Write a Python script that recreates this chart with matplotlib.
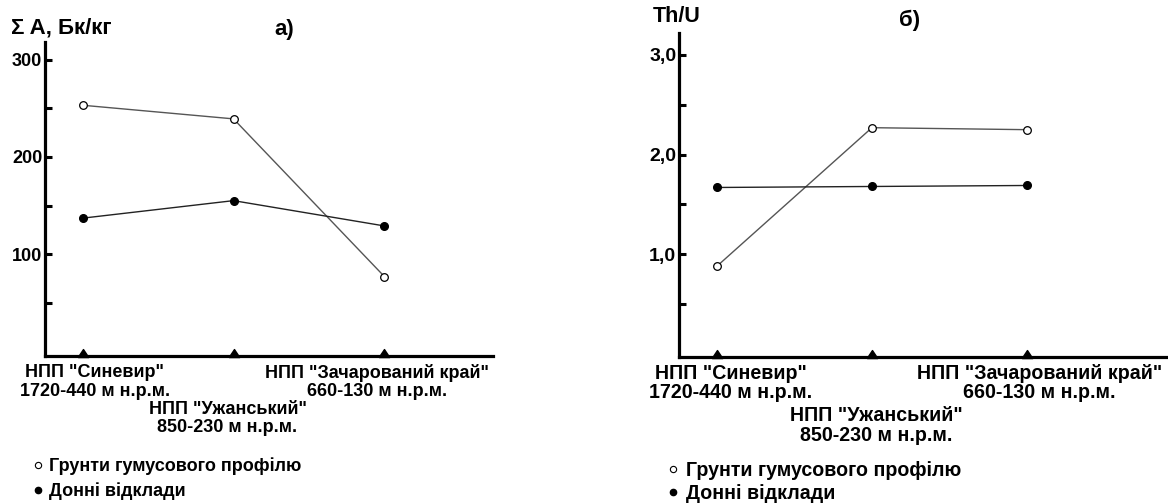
import numpy as np
import matplotlib
matplotlib.use('Agg')
import matplotlib.pyplot as plt
from matplotlib.lines import Line2D
from matplotlib.ticker import FixedLocator, FuncFormatter

plt.rcParams['font.family'] = ['Liberation Sans', 'DejaVu Sans']
plt.rcParams['font.weight'] = 'bold'

# Назви парків і висотні діапазони
parks = ['НПП "Синевир"', 'НПП "Ужанський"', 'НПП "Зачарований край"']
heights = ['1720-440 м н.р.м.', '850-230 м н.р.м.', '660-130 м н.р.м.']
legend_labels = ['Грунти гумусового профілю', 'Донні відклади']

# а) сумарна активність, Бк/кг
activity_soil = [253, 239, 77]
activity_sediment = [137, 155, 129]

# б) відношення Th/U
thu_soil = [0.88, 2.27, 2.25]
thu_sediment = [1.67, 1.68, 1.69]

x = np.arange(len(parks))

fig = plt.figure(figsize=(11.68, 5.04), dpi=100)
ax1 = fig.add_axes([0.0385, 0.2937, 0.3836, 0.623])
ax2 = fig.add_axes([0.5813, 0.2911, 0.4187, 0.6434])

# маркер-трикутник з основою на осі
tri = [(-1, -0.2), (1, -0.2), (0, 1.3), (-1, -0.2)]


def style_axes(ax, major, minor, fs):
    for side in ('top', 'right'):
        ax.spines[side].set_visible(False)
    for side in ('left', 'bottom'):
        ax.spines[side].set_linewidth(2.3)
    ax.yaxis.set_major_locator(FixedLocator(major))
    ax.yaxis.set_minor_locator(FixedLocator(minor))
    ax.tick_params(axis='y', which='both', direction='in', length=5, width=2.2,
                   pad=2, labelsize=fs)
    ax.set_xticks([])


def draw_series(ax, soil, sediment):
    ax.plot(x, soil, color='#555555', lw=1.0, marker='o', ms=5.5,
            mfc='white', mec='black', mew=0.9, zorder=3)
    ax.plot(x, sediment, color='#222222', lw=1.0, marker='o', ms=5.5,
            mfc='black', mec='black', zorder=3)
    ax.plot(x, [ax.get_ylim()[0]] * len(x), linestyle='none', marker=tri,
            ms=10, color='black', clip_on=False, zorder=4)


def park_labels(ax, dx, rows, fs):
    for i in range(len(parks)):
        r1, r2 = rows[i]
        ax.annotate(parks[i], xy=(x[i] + dx[i], 0), xycoords=('data', 'axes fraction'),
                    xytext=(0, -r1), textcoords='offset pixels',
                    ha='center', va='center', fontsize=fs, annotation_clip=False)
        ax.annotate(heights[i], xy=(x[i] + dx[i], 0), xycoords=('data', 'axes fraction'),
                    xytext=(0, -r2), textcoords='offset pixels',
                    ha='center', va='center', fontsize=fs, annotation_clip=False)


def add_legend(ax, anchor, fs, spacing):
    handles = [
        Line2D([], [], linestyle='none', marker='o', ms=4.5, mfc='white', mec='black', mew=0.8),
        Line2D([], [], linestyle='none', marker='o', ms=4.5, mfc='black', mec='black'),
    ]
    ax.legend(handles, legend_labels, loc='upper left', bbox_to_anchor=anchor,
              bbox_transform=fig.transFigure, frameon=False, handlelength=0.55,
              handletextpad=0.35, labelspacing=spacing, borderaxespad=0,
              borderpad=0, prop={'size': fs, 'weight': 'bold'})


# а)
ax1.set_xlim(-0.25, 2.72)
ax1.set_ylim(-4.6, 318)
style_axes(ax1, [100, 200, 300], [50, 150, 250], 13)
draw_series(ax1, activity_soil, activity_sediment)
park_labels(ax1, [0.08, -0.04, -0.05], [(17, 36), (54, 72), (17, 36)], 13)
add_legend(ax1, (0.028, 0.093), 13, 0.42)
fig.text(11 / 1168, 1 - 28 / 504, 'Σ A, Бк/кг', fontsize=16, ha='left', va='center')
fig.text(284 / 1168, 1 - 30 / 504, 'а)', fontsize=16, ha='center', va='center')

# б)
ax2.set_xlim(-0.245, 2.91)
ax2.set_ylim(-0.034, 3.22)
style_axes(ax2, [1.0, 2.0, 3.0], [0.5, 1.5, 2.5], 14)
ax2.yaxis.set_major_formatter(FuncFormatter(lambda v, p: f'{v:.1f}'.replace('.', ',')))
draw_series(ax2, thu_soil, thu_sediment)
park_labels(ax2, [0.09, 0.03, 0.08], [(16, 35), (58, 78), (16, 35)], 14.1)
add_legend(ax2, (0.572, 0.086), 14.1, 0.22)
fig.text(653 / 1168, 1 - 17 / 504, 'Th/U', fontsize=15.5, ha='left', va='center')
fig.text(910 / 1168, 1 - 20 / 504, 'б)', fontsize=16, ha='center', va='center')

fig.savefig('out.png', dpi=100)
